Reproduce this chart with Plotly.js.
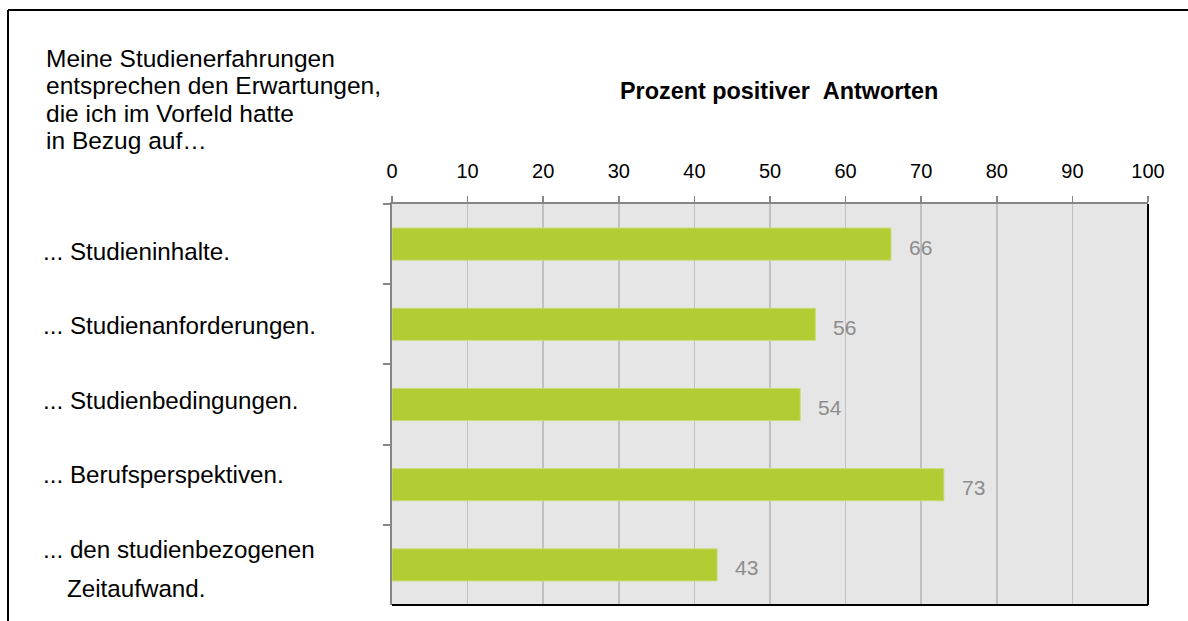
<!DOCTYPE html>
<html>
<head>
<meta charset="utf-8">
<script src="https://cdn.plot.ly/plotly-3.0.1.min.js"></script>
<style>
  html, body { margin: 0; padding: 0; background: #ffffff; }
  #chart { width: 1188px; height: 621px; }
</style>
</head>
<body>
<div id="chart"></div>
<script>
// ---- data ----
const categories = [
  '... Studieninhalte.',
  '... Studienanforderungen.',
  '... Studienbedingungen.',
  '... Berufsperspektiven.',
  '... den studienbezogenen Zeitaufwand.'
];
const categoryLines = [
  ['... Studieninhalte.'],
  ['... Studienanforderungen.'],
  ['... Studienbedingungen.'],
  ['... Berufsperspektiven.'],
  ['... den studienbezogenen', 'Zeitaufwand.']
];
const values = [66, 56, 54, 73, 43];
const xTickVals = [0, 10, 20, 30, 40, 50, 60, 70, 80, 90, 100];
const xTickText = ['0', '10', '20', '30', '40', '50', '60', '70', '80', '90', '100'];
const introLines = [
  'Meine Studienerfahrungen',
  'entsprechen den Erwartungen,',
  'die ich im Vorfeld hatte',
  'in Bezug auf\u2026'
];
const chartTitle = 'Prozent positiver  Antworten';

// ---- layout geometry ----
const W = 1188, H = 621;
const M = { l: 392, r: 40, t: 204, b: 16 };
const PW = W - M.l - M.r, PH = H - M.t - M.b;
const px2x = px => (px - M.l) / PW;
const py2y = py => (H - M.b - py) / PH;
const FONT = '"Liberation Sans", Arial, Helvetica, sans-serif';

const annotations = [];

// title
annotations.push({
  xref: 'paper', yref: 'paper', x: px2x(779), y: py2y(91),
  xanchor: 'center', yanchor: 'middle', showarrow: false,
  text: '<b>' + chartTitle.replace('  ', ' \u00a0') + '</b>',
  font: { family: FONT, size: 23.4, color: '#000000' }
});

// intro text
const introTop = 58, introStep = 27.5;
introLines.forEach((t, i) => {
  annotations.push({
    xref: 'paper', yref: 'paper', x: px2x(44), y: py2y(introTop + i * introStep),
    xanchor: 'left', yanchor: 'middle', showarrow: false, align: 'left',
    text: t, font: { family: FONT, size: 24.5, color: '#000000' }
  });
});

// category labels (evenly stacked text boxes on the left)
const labelTop = 251, labelStep = 74.5, lineStep = 39, indent = 24;
categoryLines.forEach((lines, ci) => {
  lines.forEach((t, li) => {
    annotations.push({
      xref: 'paper', yref: 'paper',
      x: px2x(41), y: py2y(labelTop + ci * labelStep + li * lineStep),
      xanchor: 'left', yanchor: 'middle', showarrow: false, align: 'left',
      xshift: li > 0 ? indent : 0,
      text: t, font: { family: FONT, size: 24.2, color: '#000000' }
    });
  });
});

// value labels
values.forEach((v, i) => {
  annotations.push({
    xref: 'x', yref: 'y', x: v, y: categories[i],
    xanchor: 'left', yanchor: 'middle', showarrow: false,
    xshift: 16, yshift: -3,
    text: String(v), font: { family: FONT, size: 21, color: '#8c8c8c' }
  });
});

const shapes = [
  // right and bottom black frame of the plot area
  { type: 'line', xref: 'paper', yref: 'paper', x0: 1, x1: 1, y0: 0, y1: 1,
    line: { color: '#000000', width: 2 } },
  { type: 'line', xref: 'paper', yref: 'paper', x0: 0, x1: 1, y0: 0, y1: 0,
    line: { color: '#000000', width: 2 } },
  // outer frame (left and top)
  { type: 'line', xref: 'paper', yref: 'paper', x0: px2x(8), x1: px2x(8), y0: py2y(10), y1: py2y(H + 5),
    line: { color: '#000000', width: 2 } },
  { type: 'line', xref: 'paper', yref: 'paper', x0: px2x(8), x1: px2x(W + 5), y0: py2y(10), y1: py2y(10),
    line: { color: '#000000', width: 2 } }
];

const trace = {
  type: 'bar', orientation: 'h',
  x: values, y: categories,
  width: 0.4,
  marker: { color: '#b2cc33', line: { color: '#c9dc78', width: 1 } },
  hoverinfo: 'x+y'
};

const layout = {
  width: W, height: H,
  margin: M,
  paper_bgcolor: '#ffffff',
  plot_bgcolor: '#e6e6e6',
  showlegend: false,
  font: { family: FONT, color: '#000000' },
  xaxis: {
    side: 'top', range: [0, 100], tickvals: xTickVals, ticktext: xTickText,
    showgrid: true, gridcolor: '#c0c0c0', gridwidth: 1.5, zeroline: false,
    showline: true, linecolor: '#868686', linewidth: 2,
    ticks: 'outside', ticklen: 6, tickwidth: 1.5, tickcolor: '#868686',
    ticklabelstandoff: 10,
    tickfont: { family: FONT, size: 20, color: '#000000' },
    fixedrange: true
  },
  yaxis: {
    type: 'category', categoryorder: 'array', categoryarray: categories,
    range: [4.5, -0.5],
    showticklabels: false, showgrid: false, zeroline: false,
    showline: true, linecolor: '#868686', linewidth: 2.5,
    ticks: 'outside', tickson: 'boundaries', ticklen: 7, tickwidth: 2, tickcolor: '#868686',
    fixedrange: true
  },
  annotations: annotations,
  shapes: shapes
};

Plotly.newPlot('chart', [trace], layout, { displayModeBar: false, staticPlot: true });
</script>
</body>
</html>
